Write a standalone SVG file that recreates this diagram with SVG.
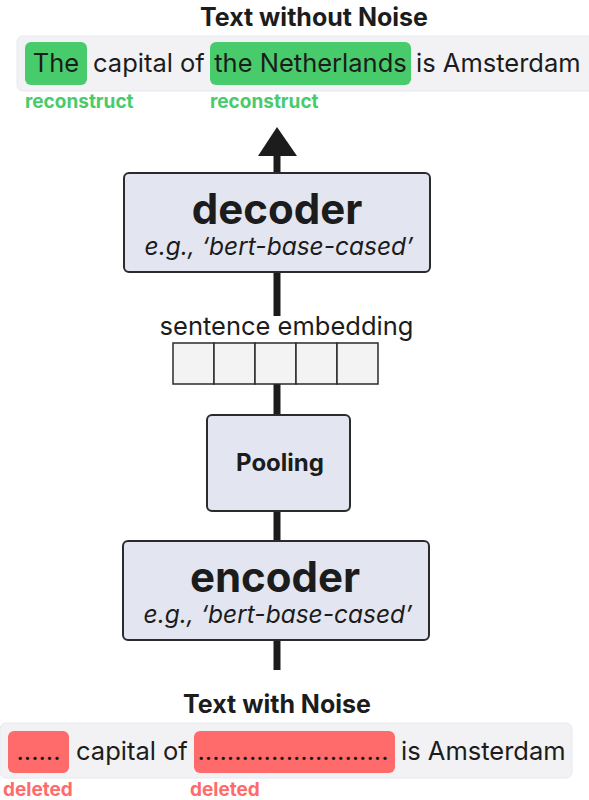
<svg xmlns="http://www.w3.org/2000/svg" width="589" height="800" viewBox="0 0 589 800">
<style>
  .title{font-family:Inter,"Liberation Sans",sans-serif;font-weight:700;font-size:25px;fill:#1c1c1c;text-anchor:middle}
  .sent{font-family:Inter,"Liberation Sans",sans-serif;font-size:25.5px;fill:#1c1c1c}
  .big{font-family:Inter,"Liberation Sans",sans-serif;font-weight:700;font-size:42px;fill:#1c1c1c;text-anchor:middle}
  .ital{font-family:Inter,"Liberation Sans",sans-serif;font-style:italic;font-size:24.5px;fill:#1c1c1c;text-anchor:middle}
  .lab{font-family:Inter,"Liberation Sans",sans-serif;font-weight:700;font-size:19px}
  .box{fill:#e3e6f0;stroke:#2b2b2b;stroke-width:2}
  .band{fill:#f2f2f4;stroke:#e6e9f1;stroke-width:1}
  .cell{fill:#f3f3f4;stroke:#2b2b2b;stroke-width:1.5}
  .conn{stroke:#1c1c1c;stroke-width:7;fill:none}
</style>
<g id="connectors">
  <line class="conn" x1="277" y1="173" x2="277" y2="150"/>
  <polygon points="277,127 297,156 258,156" fill="#1c1c1c"/>
  <line class="conn" x1="277" y1="272" x2="277" y2="316"/>
  <line class="conn" x1="277" y1="384" x2="277" y2="415"/>
  <line class="conn" x1="277" y1="511" x2="277" y2="541"/>
  <line class="conn" x1="277" y1="640" x2="277" y2="670"/>
</g>
<g id="output">
  <text class="title" x="314" y="26">Text without Noise</text>
  <rect class="band" x="17" y="36" width="580" height="55" rx="6"/>
  <rect x="25" y="42" width="62" height="43" rx="6" fill="#48cb6b"/>
  <rect x="210" y="42" width="201" height="43" rx="6" fill="#48cb6b"/>
  <text class="sent" x="56" y="72" text-anchor="middle">The</text>
  <text class="sent" x="93" y="72">capital of</text>
  <text class="sent" x="310.5" y="72" text-anchor="middle">the Netherlands</text>
  <text class="sent" x="416" y="72">is Amsterdam</text>
  <text class="lab" x="25" y="108" fill="#48cb6b">reconstruct</text>
  <text class="lab" x="210" y="108" fill="#48cb6b">reconstruct</text>
</g>
<g id="decoder">
  <rect class="box" x="124" y="173" width="306" height="99" rx="5"/>
  <text class="big" x="277" y="224">decoder</text>
  <text class="ital" x="279" y="255">e.g., ‘bert-base-cased’</text>
</g>
<g id="embedding">
  <text class="sent" x="286.5" y="335" text-anchor="middle">sentence embedding</text>
  <rect class="cell" x="173" y="343" width="41" height="41"/>
  <rect class="cell" x="214" y="343" width="41" height="41"/>
  <rect class="cell" x="255" y="343" width="41" height="41"/>
  <rect class="cell" x="296" y="343" width="41" height="41"/>
  <rect class="cell" x="337" y="343" width="41" height="41"/>
</g>
<g id="pooling">
  <rect class="box" x="207" y="415" width="143" height="96" rx="5"/>
  <text x="280" y="471" style="font-family:Inter,'Liberation Sans',sans-serif;font-weight:700;font-size:24px;fill:#1c1c1c;text-anchor:middle">Pooling</text>
</g>
<g id="encoder">
  <rect class="box" x="123" y="541" width="306" height="99" rx="5"/>
  <text class="big" x="275" y="592">encoder</text>
  <text class="ital" x="278" y="623">e.g., ‘bert-base-cased’</text>
</g>
<g id="input">
  <text class="title" x="277" y="713">Text with Noise</text>
  <rect class="band" x="0" y="723" width="572" height="55" rx="6"/>
  <rect x="8" y="731" width="61" height="42" rx="6" fill="#ff6b6b"/>
  <rect x="194" y="731" width="201" height="42" rx="6" fill="#ff6b6b"/>
  <text class="sent" x="38.5" y="760" text-anchor="middle">......</text>
  <text class="sent" x="76" y="760">capital of</text>
  <text class="sent" x="293" y="760" text-anchor="middle">..........................</text>
  <text class="sent" x="401" y="760">is Amsterdam</text>
  <text class="lab" x="3" y="796" fill="#ff6b6b">deleted</text>
  <text class="lab" x="190" y="796" fill="#ff6b6b">deleted</text>
</g>
</svg>
